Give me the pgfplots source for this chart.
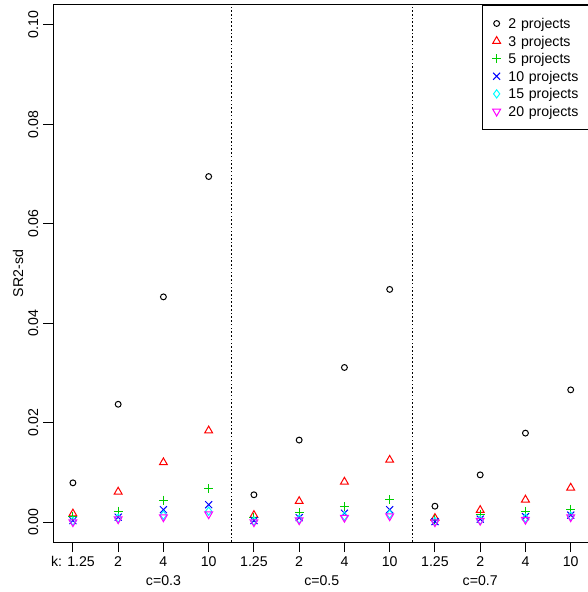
\documentclass[border=0pt]{standalone}
\usepackage{fontspec}
\setmainfont{Liberation Sans}
\usepackage{pgfplots}
\pgfplotsset{compat=1.18}
\definecolor{rgreen}{RGB}{0,205,0}
\definecolor{rred}{RGB}{255,0,0}
\definecolor{rblue}{RGB}{0,0,255}
\definecolor{rcyan}{RGB}{0,255,255}
\definecolor{rmagenta}{RGB}{255,0,255}
\newcommand{\rfont}{\fontsize{10.6}{12.7}\selectfont}

\begin{document}
\begin{tikzpicture}
\begin{axis}[
  scale only axis, width=403.2pt, height=402.75pt,
  xmin=0.56, xmax=12.44, ymin=-0.004, ymax=0.104,
  clip=false,
  axis line style={line width=0.75pt},
  tick align=outside, tick pos=left, major tick length=7.5pt,
  tick style={line width=0.75pt, black},
  xtick={1,...,12},
  xticklabels={k: 1.25,2,4,10,1.25,2,4,10,1.25,2,4,10},
  ytick={0,0.02,0.04,0.06,0.08,0.10},
  scaled y ticks=false,
  tick label style={font=\rfont},
  yticklabel style={rotate=90, anchor=south, /pgf/number format/.cd, fixed, fixed zerofill, precision=2, assume math mode=true},
  legend style={at={(0.7974,1)}, anchor=north west, draw=black, line width=0.75pt, fill=white,
    font=\rfont, inner xsep=7.45pt, inner ysep=6.9pt, row sep=0pt, column sep=5.45pt,
    nodes={inner sep=0pt, text height=7.6pt, text depth=0pt, minimum height=13.2pt, text width=62pt, align=left}},
  legend cell align=left,
  legend image code/.code={\draw[#1] plot coordinates {(0pt,0pt)};},
]
\draw[line width=0.75pt, dash pattern=on 1.2pt off 1.6pt] (axis cs:4.5,-0.004) -- (axis cs:4.5,0.104);
\draw[line width=0.75pt, dash pattern=on 1.2pt off 1.6pt] (axis cs:8.5,-0.004) -- (axis cs:8.5,0.104);

\addplot[only marks, mark=o, mark size=2.2pt, line width=0.75pt, color=black] coordinates {
(1,0.0079) (2,0.0237) (3,0.0453) (4,0.0695) (5,0.0055) (6,0.0165) (7,0.0311) (8,0.0468) (9,0.0032) (10,0.0095) (11,0.0179) (12,0.0266)};
\addplot[only marks, mark=triangle, mark size=3.4pt, line width=0.75pt, color=rred] coordinates {
(1,0.0017) (2,0.0061) (3,0.0120) (4,0.0184) (5,0.0014) (6,0.0042) (7,0.0081) (8,0.0125) (9,0.0008) (10,0.0024) (11,0.0045) (12,0.0069)};
\addplot[only marks, mark=+, mark size=3.4pt, line width=0.75pt, color=rgreen, mark options={draw=rgreen}] coordinates {
(1,0.0012) (2,0.0022) (3,0.0044) (4,0.0067) (5,0.0009) (6,0.0019) (7,0.0031) (8,0.0045) (9,0.0006) (10,0.0016) (11,0.0022) (12,0.0026)};
\addplot[only marks, mark=x, mark size=3.7pt, line width=0.75pt, color=rblue] coordinates {
(1,0.0003) (2,0.0010) (3,0.0025) (4,0.0035) (5,0.0003) (6,0.0009) (7,0.0018) (8,0.0025) (9,0.0001) (10,0.0006) (11,0.0011) (12,0.0014)};
\addplot[only marks, mark=diamond, mark size=3.1pt, line width=0.75pt, color=rcyan] coordinates {
(1,0.0002) (2,0.0008) (3,0.0014) (4,0.0022) (5,0.0002) (6,0.0006) (7,0.0012) (8,0.0016) (9,0.0001) (10,0.0004) (11,0.0008) (12,0.0012)};
\addplot[only marks, mark=triangle, mark options={rotate=180}, mark size=3.4pt, line width=0.75pt, color=rmagenta] coordinates {
(1,0.0000) (2,0.0006) (3,0.0010) (4,0.0016) (5,0.0000) (6,0.0004) (7,0.0009) (8,0.0012) (9,0.0000) (10,0.0003) (11,0.0005) (12,0.0010)};
\legend{2 projects,3 projects,5 projects,10 projects,15 projects,20 projects}

\path (axis cs:3,-0.004) ++(0pt,-32.25pt) node[anchor=base, font=\rfont, inner sep=0pt] {c=0.3};
\path (axis cs:6.5,-0.004) ++(0pt,-32.25pt) node[anchor=base, font=\rfont, inner sep=0pt] {c=0.5};
\path (axis cs:10,-0.004) ++(0pt,-32.25pt) node[anchor=base, font=\rfont, inner sep=0pt] {c=0.7};
\path (rel axis cs:0,0.5) ++(-22.5pt,0pt) node[rotate=90, anchor=base, font=\rfont, inner sep=0pt] {SR2-sd};
\end{axis}
\pgfresetboundingbox
\path[use as bounding box] (-39.75pt,-37.5pt) rectangle (400.5pt,406.5pt);
\end{tikzpicture}
\end{document}
